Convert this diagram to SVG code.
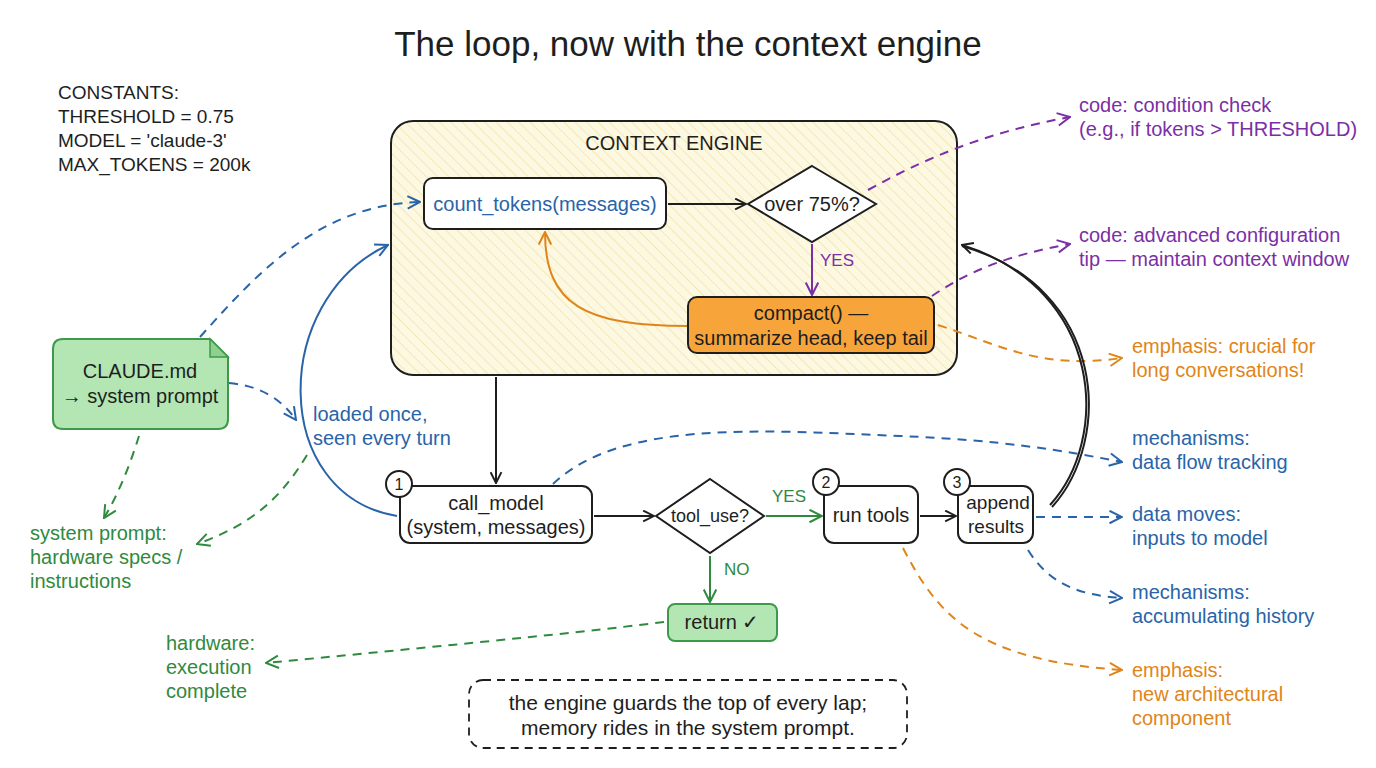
<svg xmlns="http://www.w3.org/2000/svg" width="1376" height="768" viewBox="0 0 1376 768">
<defs>
<style>
text{font-family:"Liberation Sans",Arial,sans-serif;}
.t{font-size:20px;fill:#1e1e1e;}
.c{text-anchor:middle;}
.blue{fill:#2a64a8;}
.pur{fill:#7b2fa6;}
.org{fill:#e0851a;}
.grn{fill:#2f8a3e;}
.box{fill:#ffffff;stroke:#1e1e1e;stroke-width:2;}
.ln{fill:none;stroke-width:2;}
.k{stroke:#1e1e1e;}
.b{stroke:#2a64a8;}
.p{stroke:#7b2fa6;}
.o{stroke:#e0851a;}
.g{stroke:#2f8a3e;}
.d{stroke-dasharray:9 7;}
</style>
<pattern id="hatch" width="8" height="8" patternUnits="userSpaceOnUse" patternTransform="rotate(-45)">
<rect width="8" height="8" fill="#fdf8e2"/>
<line x1="0" y1="0" x2="0" y2="8" stroke="#f1e3a6" stroke-width="1.5"/>
</pattern>
<marker id="ak" viewBox="0 0 12 12" refX="11" refY="6" markerWidth="13" markerHeight="13" markerUnits="userSpaceOnUse" orient="auto"><path d="M1 1 L11 6 L1 11" fill="none" stroke="#1e1e1e" stroke-width="1.8"/></marker>
<marker id="ab" viewBox="0 0 12 12" refX="11" refY="6" markerWidth="15" markerHeight="15" markerUnits="userSpaceOnUse" orient="auto"><path d="M1 1 L11 6 L1 11" fill="none" stroke="#2a64a8" stroke-width="1.6"/></marker>
<marker id="ap" viewBox="0 0 12 12" refX="11" refY="6" markerWidth="15" markerHeight="15" markerUnits="userSpaceOnUse" orient="auto"><path d="M1 1 L11 6 L1 11" fill="none" stroke="#7b2fa6" stroke-width="1.6"/></marker>
<marker id="ao" viewBox="0 0 12 12" refX="11" refY="6" markerWidth="15" markerHeight="15" markerUnits="userSpaceOnUse" orient="auto"><path d="M1 1 L11 6 L1 11" fill="none" stroke="#e0851a" stroke-width="1.6"/></marker>
<marker id="ag" viewBox="0 0 12 12" refX="11" refY="6" markerWidth="15" markerHeight="15" markerUnits="userSpaceOnUse" orient="auto"><path d="M1 1 L11 6 L1 11" fill="none" stroke="#2f8a3e" stroke-width="1.6"/></marker>
</defs>
<rect width="1376" height="768" fill="#ffffff"/>

<text x="688" y="56" class="c" style="font-size:35px;fill:#1e1e1e">The loop, now with the context engine</text>

<g id="constants">
<text class="t" x="58" y="99" style="font-size:19px">CONSTANTS:</text>
<text class="t" x="58" y="123" style="font-size:19px">THRESHOLD = 0.75</text>
<text class="t" x="58" y="147" style="font-size:19px">MODEL = 'claude-3'</text>
<text class="t" x="58" y="171" style="font-size:19px">MAX_TOKENS = 200k</text>
</g>

<g id="context-engine">
<rect x="391" y="121" width="566" height="254" rx="22" fill="url(#hatch)" stroke="#1e1e1e" stroke-width="2"/>
<text class="t c" x="674" y="150">CONTEXT ENGINE</text>
</g>

<g id="connectors">
<path class="ln k" d="M668 204 L746 204" marker-end="url(#ak)"/>
<path class="ln p" d="M812 244 L812 295" marker-end="url(#ap)"/>
<path class="ln o" d="M688 326 C585 326 545 305 545 232" marker-end="url(#ao)"/>
<path class="ln p d" d="M868 190 C940 150 1000 130 1070 117" marker-end="url(#ap)"/>
<path class="ln p d" d="M932 296 C970 270 1010 255 1070 244" marker-end="url(#ap)"/>
<path class="ln o d" d="M938 325 C1000 345 1040 370 1122 358" marker-end="url(#ao)"/>
<path class="ln k" d="M1050 505 C1110 440 1105 290 962 245" marker-end="url(#ak)"/>
<path class="ln k" d="M1052 507 C1113 440 1108 288 962 246" stroke-width="1"/>
<path class="ln b d" d="M200 337 C260 270 320 205 420 202" marker-end="url(#ab)"/>
<path class="ln b d" d="M229 383 C262 386 282 400 296 420" marker-end="url(#ab)"/>
<path class="ln g d" d="M139 436 C130 465 118 495 104 518" marker-end="url(#ag)"/>
<path class="ln g d" d="M307 455 C280 500 250 525 197 544" marker-end="url(#ag)"/>
<path class="ln b" d="M397 516 C270 495 270 300 388 245" marker-end="url(#ab)"/>
<path class="ln k" d="M496 377 L496 483" marker-end="url(#ak)"/>
<path class="ln k" d="M594 516 L654 516" marker-end="url(#ak)"/>
<path class="ln g" d="M766 516 L822 516" marker-end="url(#ag)"/>
<path class="ln k" d="M920 516 L956 516" marker-end="url(#ak)" stroke-width="2.5"/>
<path class="ln g" d="M710 556 L710 602" marker-end="url(#ag)"/>
<path class="ln g d" d="M664 622 C560 635 400 650 266 663" marker-end="url(#ag)"/>
<path class="ln b d" d="M553 484 C620 420 760 430 900 436 C1000 440 1060 450 1122 462" marker-end="url(#ab)"/>
<path class="ln b d" d="M1036 517 L1122 517" marker-end="url(#ab)"/>
<path class="ln b d" d="M1028 550 C1050 585 1080 595 1122 598" marker-end="url(#ab)"/>
<path class="ln o d" d="M903 548 C940 620 980 660 1122 670" marker-end="url(#ao)"/>
<text class="t pur" x="820" y="266" style="font-size:17px">YES</text>
<text class="t grn" x="772" y="502" style="font-size:17px">YES</text>
<text class="t grn" x="724" y="575" style="font-size:17px">NO</text>
</g>

<g id="count-tokens">
<rect class="box" x="424" y="178" width="242" height="51" rx="9"/>
<text class="t c blue" x="545" y="211">count_tokens(messages)</text>
</g>

<g id="over75">
<polygon class="box" points="812,166 876,204 812,242 748,204"/>
<text class="t c" x="812" y="211">over 75%?</text>
</g>

<g id="compact">
<rect x="688" y="297" width="246" height="56" rx="9" fill="#f7a43b" stroke="#1e1e1e" stroke-width="2"/>
<text class="t c" x="811" y="320">compact() —</text>
<text class="t c" x="811" y="345">summarize head, keep tail</text>
</g>

<g id="claude-md">
<path d="M63 339 L210 339 L228 357 L228 419 Q228 429 218 429 L63 429 Q53 429 53 419 L53 349 Q53 339 63 339 Z" fill="#b4e6b4" stroke="#3d9a4a" stroke-width="2"/>
<path d="M210 339 L210 357 L228 357 Z" fill="#8fcf8f" stroke="#3d9a4a" stroke-width="1.5"/>
<text class="t c" x="140" y="378">CLAUDE.md</text>
<text class="t c" x="140" y="403">→ system prompt</text>
</g>

<g id="loaded-note">
<text class="t blue" x="313" y="421">loaded once,</text>
<text class="t blue" x="313" y="445">seen every turn</text>
</g>

<g id="sys-prompt-note">
<text class="t grn" x="30" y="540">system prompt:</text>
<text class="t grn" x="30" y="564">hardware specs /</text>
<text class="t grn" x="30" y="588">instructions</text>
</g>

<g id="call-model">
<rect class="box" x="400" y="486" width="192" height="57" rx="10"/>
<circle cx="399" cy="484" r="13" fill="#ffffff" stroke="#1e1e1e" stroke-width="2"/>
<text class="t c" x="399" y="490" style="font-size:16px">1</text>
<text class="t c" x="496" y="510">call_model</text>
<text class="t c" x="496" y="534">(system, messages)</text>
</g>

<g id="tool-use">
<polygon class="box" points="710,479 764,516 710,553 656,516"/>
<text class="t c" x="710" y="522" style="font-size:18px">tool_use?</text>
</g>

<g id="run-tools">
<rect class="box" x="824" y="486" width="94" height="57" rx="10"/>
<circle cx="826" cy="482" r="13" fill="#ffffff" stroke="#1e1e1e" stroke-width="2"/>
<text class="t c" x="826" y="488" style="font-size:16px">2</text>
<text class="t c" x="871" y="522">run tools</text>
</g>

<g id="append-results">
<rect class="box" x="958" y="486" width="75" height="57" rx="10"/>
<circle cx="957" cy="482" r="13" fill="#ffffff" stroke="#1e1e1e" stroke-width="2"/>
<text class="t c" x="957" y="488" style="font-size:16px">3</text>
<text class="t c" x="998" y="509" style="font-size:19px">append</text>
<text class="t c" x="996" y="533" style="font-size:19px">results</text>
</g>

<g id="return">
<rect x="668" y="604" width="109" height="37" rx="7" fill="#b4e6b4" stroke="#3d9a4a" stroke-width="2"/>
<text class="t c" x="722" y="629">return ✓</text>
</g>

<g id="hardware-note">
<text class="t grn" x="166" y="650">hardware:</text>
<text class="t grn" x="166" y="674">execution</text>
<text class="t grn" x="166" y="698">complete</text>
</g>

<g id="right-notes">
<text class="t pur" x="1079" y="112">code: condition check</text>
<text class="t pur" x="1079" y="136">(e.g., if tokens &gt; THRESHOLD)</text>
<text class="t pur" x="1079" y="242">code: advanced configuration</text>
<text class="t pur" x="1079" y="266">tip — maintain context window</text>
<text class="t org" x="1132" y="353">emphasis: crucial for</text>
<text class="t org" x="1132" y="377">long conversations!</text>
<text class="t blue" x="1132" y="445">mechanisms:</text>
<text class="t blue" x="1132" y="469">data flow tracking</text>
<text class="t blue" x="1132" y="521">data moves:</text>
<text class="t blue" x="1132" y="545">inputs to model</text>
<text class="t blue" x="1132" y="599">mechanisms:</text>
<text class="t blue" x="1132" y="623">accumulating history</text>
<text class="t org" x="1132" y="677">emphasis:</text>
<text class="t org" x="1132" y="701">new architectural</text>
<text class="t org" x="1132" y="725">component</text>
</g>

<g id="footer-note">
<rect x="469" y="680" width="438" height="68" rx="14" fill="#ffffff" stroke="#1e1e1e" stroke-width="1.8" stroke-dasharray="8 6"/>
<text class="t c" x="688" y="710" style="font-size:21px">the engine guards the top of every lap;</text>
<text class="t c" x="688" y="735" style="font-size:21px">memory rides in the system prompt.</text>
</g>
</svg>
